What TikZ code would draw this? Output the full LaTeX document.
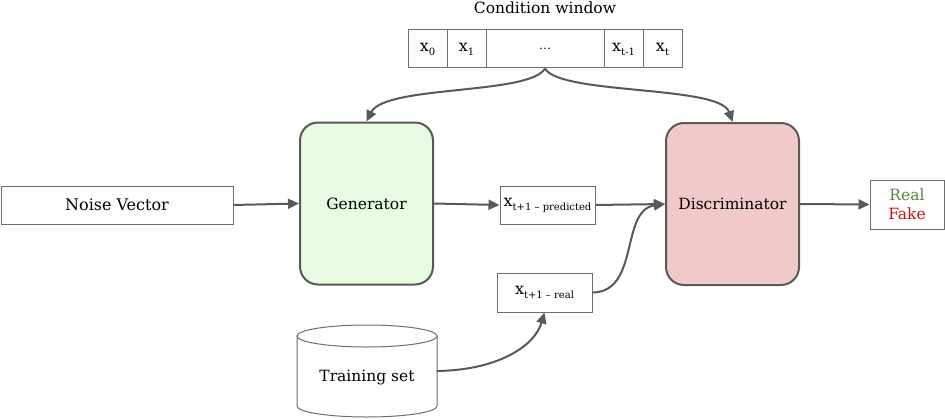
\documentclass[tikz,border=0pt]{standalone}
\usepackage{fontspec}
\setmainfont{DejaVu Serif}
\usetikzlibrary{arrows.meta}
\definecolor{arr}{HTML}{595959}
\definecolor{bord}{HTML}{6E6E6E}
\definecolor{genfill}{HTML}{E6FBE2}
\definecolor{disfill}{HTML}{F2C9C9}
\definecolor{realc}{HTML}{4E8A3E}
\definecolor{fakec}{HTML}{CC1111}
\newcommand{\xsub}[1]{x\raisebox{-4pt}{\fontsize{10}{12}\selectfont #1}}
\tikzset{
  cell/.style={draw=bord, line width=1pt, minimum height=38pt, inner sep=0pt, font=\fontsize{16}{18}\selectfont},
  smallbox/.style={draw=bord, line width=1pt, inner sep=0pt, font=\fontsize{16}{18}\selectfont},
  bigbox/.style={draw=arr, line width=2pt, rounded corners=18pt, minimum width=133pt, minimum height=162pt, inner sep=0pt, font=\fontsize{15.5}{17}\selectfont},
  conn/.style={draw=arr, line width=2pt, -{Triangle[length=11pt,width=10pt]}},
}
\begin{document}
\begin{tikzpicture}[x=1pt,y=-1pt]
\useasboundingbox (0,0) rectangle (945,420);
% condition window
\node[font=\fontsize{15.5}{17}\selectfont] (title) at (545,8) {Condition window};
\node[cell, minimum width=39pt] (c0) at (427.5,49) {\xsub{0}};
\node[cell, minimum width=39pt] (c1) at (466.5,49) {\xsub{1}};
\node[cell, minimum width=118pt] (cd) at (545,49) {\fontsize{12}{14}\selectfont …};
\node[cell, minimum width=39pt] (ct1) at (623.5,49) {\xsub{t-1}};
\node[cell, minimum width=39pt] (ct) at (662.5,49) {\xsub{t}};
% big boxes
\node[bigbox, fill=genfill] (gen) at (366.5,203.5) {Generator};
\node[bigbox, fill=disfill] (dis) at (732.5,204) {Discriminator};
% small boxes
\node[smallbox, minimum width=232pt, minimum height=38pt, font=\fontsize{16}{18}\selectfont] (noise) at (117,205) {Noise Vector};
\node[smallbox, minimum width=95pt, minimum height=38pt] (pred) at (547.5,205) {\xsub{t+1 – predicted}};
\node[smallbox, minimum width=95pt, minimum height=39pt] (real) at (544.5,292.5) {\xsub{t+1 – real}};
\node[smallbox, minimum width=74pt, minimum height=49pt, align=center, font=\fontsize{15.5}{19}\selectfont] (rf) at (907,204.5) {\textcolor{realc}{Real}\\\textcolor{fakec}{Fake}};
% cylinder
\draw[bord, line width=1pt, fill=white] (297,336) -- (297,406) arc[start angle=180, end angle=0, x radius=70, y radius=11] -- (437,336);
\draw[bord, line width=1pt, fill=white] (367,336) ellipse[x radius=70, y radius=11];
\node[font=\fontsize{15.5}{17}\selectfont] (train) at (367,378) {Training set};
\coordinate (trainR) at (437,371);
% connectors
\draw[conn] (cd.south) .. controls (530,95) and (385,85) .. (gen.north);
\draw[conn] (cd.south) .. controls (560,95) and (720,85) .. (dis.north);
\draw[conn] (noise.east) -- (gen.west);
\draw[conn] (gen.east) -- (pred.west);
\draw[conn] (pred.east) -- (dis.west);
\draw[conn] (real.east) .. controls (640,292) and (620,210) .. (dis.west);
\draw[conn] (trainR) .. controls (500,370) and (535,345) .. (real.south);
\draw[conn] (dis.east) -- (rf.west);
\end{tikzpicture}
\end{document}
